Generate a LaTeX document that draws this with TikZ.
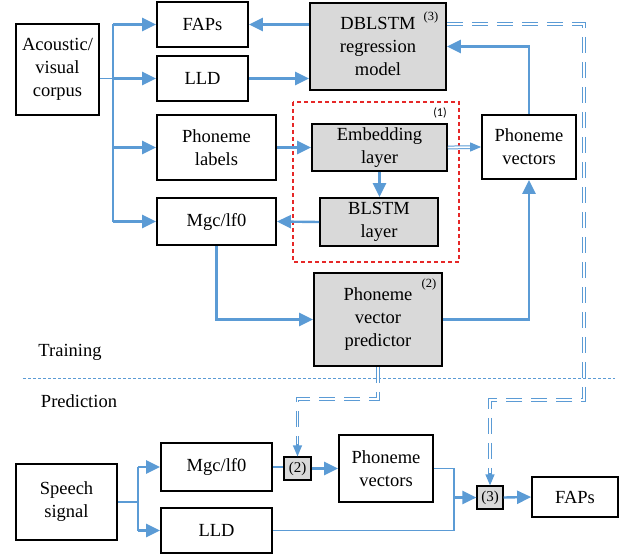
\documentclass[tikz,border=0pt]{standalone}
\usepackage{fontspec}
\setmainfont{Liberation Serif}
\newfontfamily\lblfont{Carlito}
\newfontfamily\serfont{Liberation Serif}
\usetikzlibrary{arrows.meta,calc}
\definecolor{cblue}{RGB}{91,155,213}
\definecolor{cgray}{RGB}{217,217,217}
\definecolor{cred}{RGB}{230,40,40}
\tikzset{
  box/.style={draw=black, line width=1.8pt, align=center, inner sep=0pt,
    font=\serfont\fontsize{18.5}{23}\selectfont},
  gbox/.style={box, fill=cgray},
  sbox/.style={draw=black, line width=1.2pt, fill=cgray, inner sep=0pt,
    font=\serfont\fontsize{15}{16}\selectfont},
  conn/.style={draw=cblue, line width=2.4pt},
  arr/.style={conn, -{Triangle[length=14pt,width=13pt]}},
  thinconn/.style={draw=cblue, line width=1.5pt},
  dbl/.style={draw=cblue, line width=1pt, double=white, double distance=1.8pt},
  ddash/.style={dbl, dash pattern=on 16pt off 9pt},
  smallarr/.style={draw=cblue, line width=1.2pt, -{Triangle[length=11pt,width=9pt]}},
  sup/.style={inner sep=0pt, font=\serfont\fontsize{12.5}{13}\selectfont},
}
\begin{document}
\begin{tikzpicture}[x=1pt,y=-1pt]
\useasboundingbox (0,0) rectangle (628,556);
% training nodes
\node[box, minimum width=83pt, minimum height=91pt] (acv) at (57.5,69.5) {Acoustic/\\visual\\corpus};
\node[box, minimum width=91pt, minimum height=45pt] (fap1) at (202.5,24.5) {FAPs};
\node[box, minimum width=91pt, minimum height=45pt] (lld1) at (202.5,78.5) {LLD};
\node[box, minimum width=119pt, minimum height=65pt] (phl) at (216.5,147.5) {Phoneme\\labels};
\node[box, minimum width=119pt, minimum height=47pt] (mgc1) at (216.5,221.5) {Mgc/lf0};
\node[gbox, minimum width=136pt, minimum height=87pt] (dbl) at (378,46.5) {DBLSTM\\regression\\model};
\node[sup] (s3) at (431,17) {(3)};
\draw[cred, line width=1.1pt, dash pattern=on 4pt off 3pt] (293,102) rectangle (459,262);
\node[inner sep=0pt, font=\lblfont\fontsize{12}{12}\selectfont] (s1) at (440,113) {(1)};
\node[gbox, minimum width=135pt, minimum height=47pt] (emb) at (379.5,147.5) {Embedding\\layer};
\node[gbox, minimum width=118pt, minimum height=48pt] (blstm) at (379,222) {BLSTM\\layer};
\node[box, minimum width=94pt, minimum height=64pt] (pv1) at (529,147) {Phoneme\\vectors};
\node[gbox, minimum width=128pt, minimum height=93pt] (pred) at (378,319.5) {Phoneme\\vector\\predictor};
\node[sup] (s2) at (429,284) {(2)};
% labels and separator
\node[inner sep=0pt, font=\serfont\fontsize{18.5}{20}\selectfont] (tr) at (70,352) {Training};
\node[inner sep=0pt, font=\serfont\fontsize{18.5}{20}\selectfont] (pr) at (79,401) {Prediction};
\coordinate (sepl) at (23,378);
\coordinate (sepr) at (615,378);
\draw[cblue, line width=1pt, dash pattern=on 3pt off 2pt] (sepl) -- (sepr);
% prediction nodes
\node[box, minimum width=101pt, minimum height=76pt] (spch) at (66.5,502) {Speech\\signal};
\node[box, minimum width=111pt, minimum height=48pt] (mgc2) at (216.5,467) {Mgc/lf0};
\node[box, minimum width=111pt, minimum height=45pt] (lld2) at (216.5,530.5) {LLD};
\node[sbox, minimum width=27pt, minimum height=23pt] (b2) at (297.5,468.5) {(2)};
\node[box, minimum width=94pt, minimum height=67pt] (pv2) at (386,468.5) {Phoneme\\vectors};
\node[sbox, minimum width=26pt, minimum height=23pt] (b3) at (490,497.5) {(3)};
\node[box, minimum width=86pt, minimum height=40pt] (fap2) at (575,497) {FAPs};
% training connectors
\coordinate (bx) at (113,0);
\draw[thinconn] (acv.east |- lld1) -- (bx |- lld1);
\draw[conn] (bx |- fap1) -- (bx |- mgc1);
\draw[arr] (bx |- fap1) -- (fap1.west);
\draw[arr] (bx |- lld1) -- (lld1.west);
\draw[arr] (bx |- phl) -- (phl.west);
\draw[arr] (bx |- mgc1) -- (mgc1.west);
\draw[arr] (dbl.west |- fap1) -- (fap1.east);
\draw[arr] (lld1.east) -- (dbl.west |- lld1);
\draw[arr] (phl.east) -- (emb.west);
\draw[arr] (emb.south) -- (emb.south |- blstm.north);
\draw[arr] (blstm.west) -- (mgc1.east);
\draw[dbl, shorten >=7pt] (emb.east) -- (pv1.west);
\draw[smallarr] ($(pv1.west)+(-9,0)$) -- (pv1.west);
\draw[arr] (pv1.north) |- (dbl.east);
\draw[arr] (mgc1.south) |- (pred.west);
\draw[arr] (pred.east) -| (pv1.south);
% double dashed links
\coordinate (c3a) at (584,24);
\coordinate (c3b) at (584,400);
\draw[ddash, shorten >=9pt] (dbl.east |- c3a) -- (c3a) -- (c3b) -| (b3.north);
\draw[smallarr] ($(b3.north)+(0,-12)$) -- (b3.north);
\coordinate (c2a) at (378,399);
\draw[ddash, shorten >=9pt] (pred.south) -- (c2a) -| (b2.north);
\draw[smallarr] ($(b2.north)+(0,-12)$) -- (b2.north);
% prediction connectors
\coordinate (bx2) at (138,0);
\draw[conn] (spch.east) -- (bx2 |- spch);
\draw[conn] (bx2 |- mgc2) -- (bx2 |- lld2);
\draw[arr] (bx2 |- mgc2) -- (mgc2.west);
\draw[arr] (bx2 |- lld2) -- (lld2.west);
\draw[conn] (mgc2.east) -- (b2.west |- mgc2);
\draw[arr] (b2.east) -- (pv2.west);
\coordinate (jx) at (454,0);
\draw[thinconn] (pv2.east) -| (jx |- b3);
\draw[thinconn] (lld2.east) -| (jx |- b3);
\draw[arr] (jx |- b3) -- (b3.west);
\draw[arr] (b3.east) -- (fap2.west);
\end{tikzpicture}
\end{document}
